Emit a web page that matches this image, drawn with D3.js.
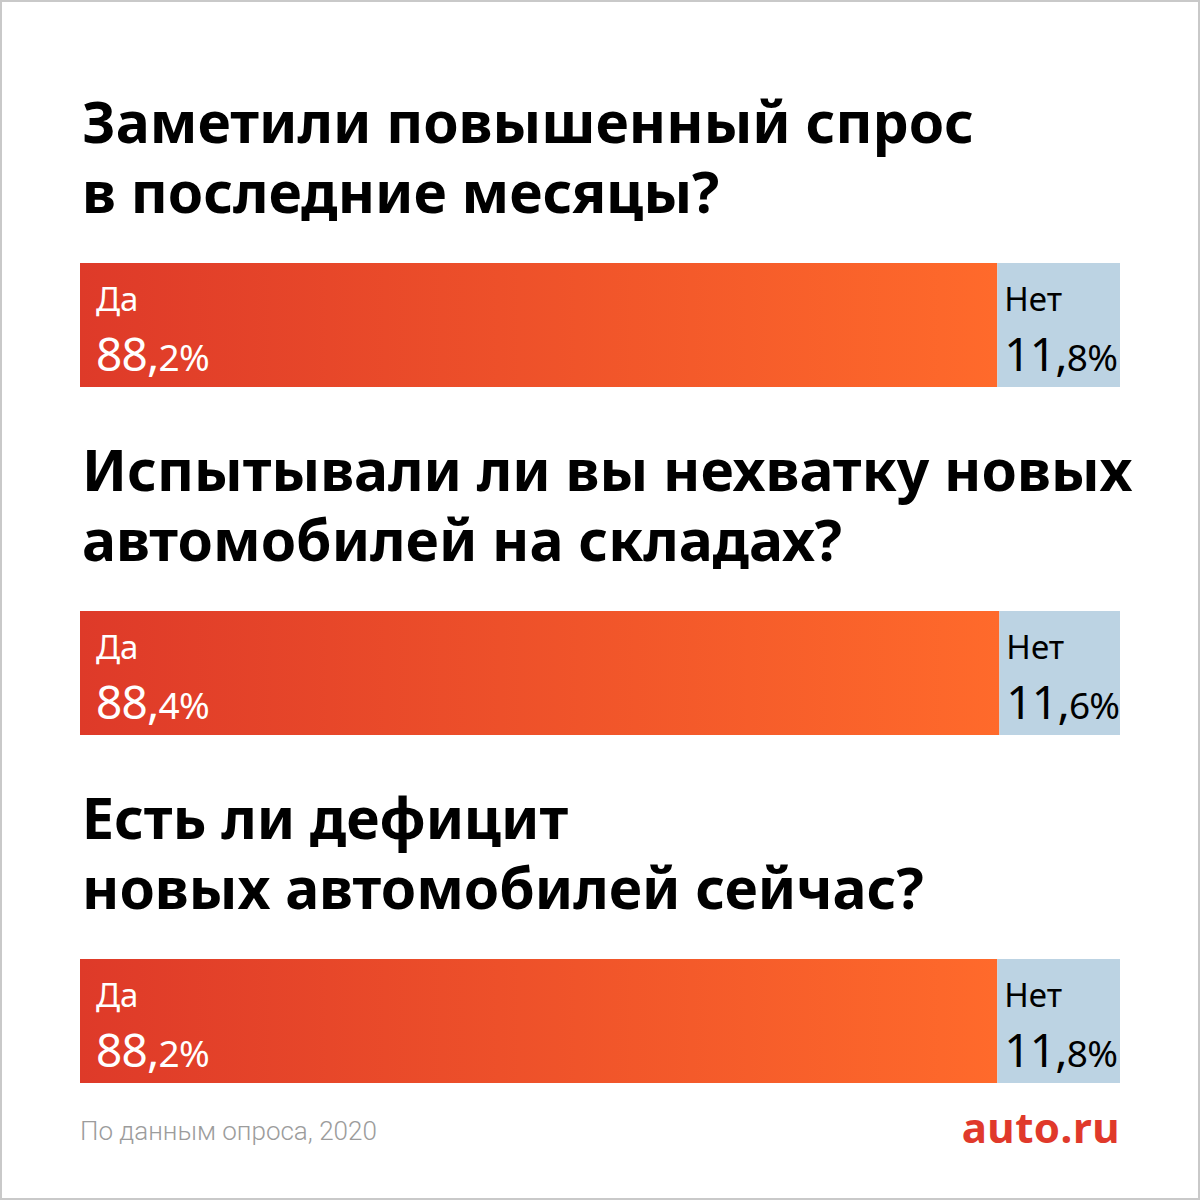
<!DOCTYPE html>
<html>
<head>
<meta charset="utf-8">
<script src="https://cdn.jsdelivr.net/npm/d3@7"></script>
<style>
  html, body { margin: 0; padding: 0; background: #fff; }
  svg { display: block; }
</style>
</head>
<body>
<div id="chart"></div>
<script>
// survey questions, two lines each
const questions = [
    ["Заметили повышенный спрос", "в последние месяцы?"],
    ["Испытывали ли вы нехватку новых", "автомобилей на складах?"],
    ["Есть ли дефицит", "новых автомобилей сейчас?"]
];
const answerLabels = ["Да", "Нет"];
const yesShare = [88.2, 88.4, 88.2];
const noShare = [11.8, 11.6, 11.8];
const sourceNote = "По данным опроса, 2020";
const brand = "auto.ru";

const width = 1200, height = 1200;
const margin = {left: 80, right: 80};

const svg = d3.select("#chart").append("svg")
    .attr("width", width)
    .attr("height", height);

// gradient for the "yes" part
const defs = svg.append("defs");
const grad = defs.append("linearGradient")
    .attr("id", "yesGrad")
    .attr("x1", "0%").attr("x2", "100%")
    .attr("y1", "0%").attr("y2", "0%");
grad.append("stop").attr("offset", "0%").attr("stop-color", "#de3a29");
grad.append("stop").attr("offset", "100%").attr("stop-color", "#ff6a2b");

// frame
svg.append("rect")
    .attr("x", 1).attr("y", 1)
    .attr("width", width - 2).attr("height", height - 2)
    .attr("fill", "#fff")
    .attr("stroke", "#c9c9c9")
    .attr("stroke-width", 2);

const x = d3.scaleLinear().domain([0, 100]).range([margin.left, width - margin.right]);
const groupY = d3.scaleLinear().domain([0, 1]).range([0, 348]);

const titleTop = 143, lineGap = 70, barTop = 263, barH = 124;

// "88,2%" -> ["88,", "2%"]
function splitValue(v) {
    const s = v.toFixed(1).replace(".", ",");
    const i = s.indexOf(",") + 1;
    return [s.slice(0, i), s.slice(i) + "%"];
}

const groups = svg.selectAll("g.q")
    .data(questions.map((q, i) => ({q: q, yes: yesShare[i], no: noShare[i], i: i})))
    .join("g")
    .attr("class", "q")
    .attr("transform", d => "translate(0," + groupY(d.i) + ")");

// one text per title line
groups.each(function(d) {
    d3.select(this).selectAll("text.title")
        .data(d.q)
        .join("text")
        .attr("class", "title")
        .attr("x", 82)
        .attr("y", (t, j) => titleTop + j * lineGap)
        .attr("font-family", "Noto Sans, sans-serif")
        .attr("font-weight", 700)
        .attr("font-size", 57)
        .attr("fill", "#000")
        .text(t => t);
});

// bars
groups.append("rect")
    .attr("x", x(0))
    .attr("y", barTop)
    .attr("width", d => x(d.yes) - x(0))
    .attr("height", barH)
    .attr("fill", "url(#yesGrad)");

groups.append("rect")
    .attr("x", d => x(d.yes))
    .attr("y", barTop)
    .attr("width", d => x(d.yes + d.no) - x(d.yes))
    .attr("height", barH)
    .attr("fill", "#bcd3e3");

function addLabels(sel, xPos, label, valueKey, color) {
    sel.append("text")
        .attr("x", xPos)
        .attr("y", barTop + 48)
        .attr("font-family", "Noto Sans, sans-serif")
        .attr("font-size", 33)
        .attr("fill", color)
        .text(label);

    const t = sel.append("text")
        .attr("x", xPos)
        .attr("y", barTop + 108)
        .attr("font-family", "Noto Sans, sans-serif")
        .attr("letter-spacing", -0.8)
        .attr("fill", color);
    t.append("tspan")
        .attr("font-size", 46)
        .text(d => splitValue(d[valueKey])[0]);
    t.append("tspan")
        .attr("font-size", 37)
        .text(d => splitValue(d[valueKey])[1]);
}

groups.each(function(d) {
    const g = d3.select(this);
    addLabels(g, x(0) + 16, answerLabels[0], "yes", "#fff");
    addLabels(g, x(d.yes) + 7, answerLabels[1], "no", "#000");
});

// footer
svg.append("text")
    .attr("x", 80)
    .attr("y", 1140)
    .attr("font-family", "Roboto, sans-serif")
    .attr("font-weight", 300)
    .attr("font-size", 26)
    .attr("fill", "#9c9c9c")
    .text(sourceNote);

svg.append("text")
    .attr("x", width - margin.right)
    .attr("y", 1143)
    .attr("text-anchor", "end")
    .attr("font-family", "Noto Sans, sans-serif")
    .attr("font-weight", 700)
    .attr("font-size", 42)
    .attr("letter-spacing", 0.5)
    .attr("fill", "#e0392b")
    .text(brand);
</script>
</body>
</html>
